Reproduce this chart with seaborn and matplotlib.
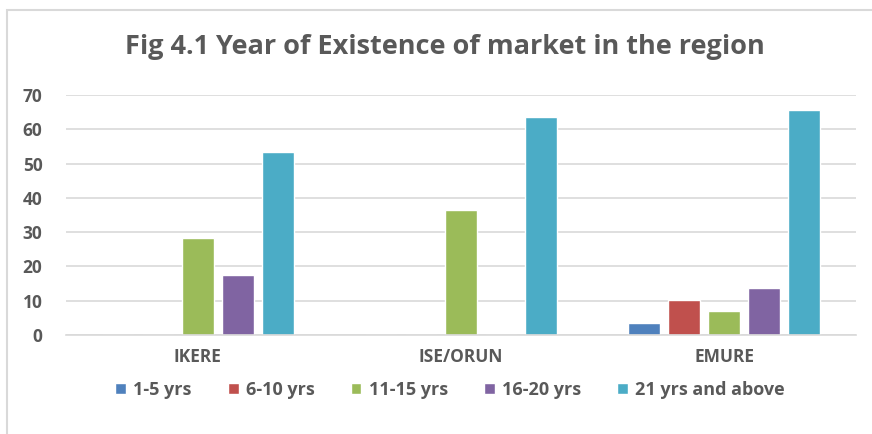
import pandas as pd
import matplotlib.pyplot as plt
import seaborn as sns
from matplotlib.patches import Rectangle

regions = ["IKERE", "ISE/ORUN", "EMURE"]
age_groups = ["1-5 yrs", "6-10 yrs", "11-15 yrs", "16-20 yrs", "21 yrs and above"]
yrs_1_5 = [0, 0, 3.4]
yrs_6_10 = [0, 0, 10.3]
yrs_11_15 = [28.3, 36.4, 6.9]
yrs_16_20 = [17.6, 0, 13.8]
yrs_21_up = [53.4, 63.6, 65.5]
colors = ["#4f81bd", "#c0504d", "#9bbb59", "#8064a2", "#4bacc6"]

series = [yrs_1_5, yrs_6_10, yrs_11_15, yrs_16_20, yrs_21_up]
rows = []
for grp, vals in zip(age_groups, series):
    for reg, v in zip(regions, vals):
        rows.append({"region": reg, "group": grp, "value": v})
df = pd.DataFrame(rows)

sns.set_style("white")
plt.rcParams["font.family"] = ["Open Sans", "DejaVu Sans"]
txt = "#595959"
grid = "#d9d9d9"

fig = plt.figure(figsize=(8.72, 4.34), dpi=100)
ax = fig.add_axes([66 / 872, 1 - 335 / 434, 790 / 872, 240 / 434])

sns.barplot(data=df, x="region", y="value", hue="group", hue_order=age_groups,
            order=regions, palette=colors, width=0.76, gap=0.2, ax=ax,
            errorbar=None, saturation=1)

ax.set_ylim(0, 70)
ax.set_yticks(range(0, 71, 10))
ax.yaxis.grid(True, color=grid, linewidth=1.2)
ax.set_axisbelow(True)
for s in ["top", "right", "left"]:
    ax.spines[s].set_visible(False)
ax.spines["bottom"].set_color(grid)
ax.spines["bottom"].set_linewidth(1.2)
ax.set_xlabel("")
ax.set_ylabel("")
ax.tick_params(axis="both", length=0, colors=txt, labelsize=12.5)
ax.tick_params(axis="y", pad=17)
ax.tick_params(axis="x", pad=9)
for lab in ax.get_xticklabels() + ax.get_yticklabels():
    lab.set_fontweight("bold")

ax.legend(loc="center", bbox_to_anchor=(450 / 872, 1 - 390 / 434),
          bbox_transform=fig.transFigure, ncol=5, frameon=False,
          handlelength=0.6, handleheight=0.6, handletextpad=0.4,
          columnspacing=2.0, prop={"size": 13, "weight": "bold"},
          labelcolor=txt)

fig.text(445 / 872, 1 - 47 / 434, "Fig 4.1 Year of Existence of market in the region",
         ha="center", va="center", fontsize=19.5, fontweight="bold", color=txt)

fig.patches.append(Rectangle((7 / 872, -0.1), 1.2, (1 - 10 / 434) + 0.1,
                             transform=fig.transFigure, fill=False,
                             edgecolor=grid, linewidth=1.5))

fig.savefig("out.png", dpi=100)
